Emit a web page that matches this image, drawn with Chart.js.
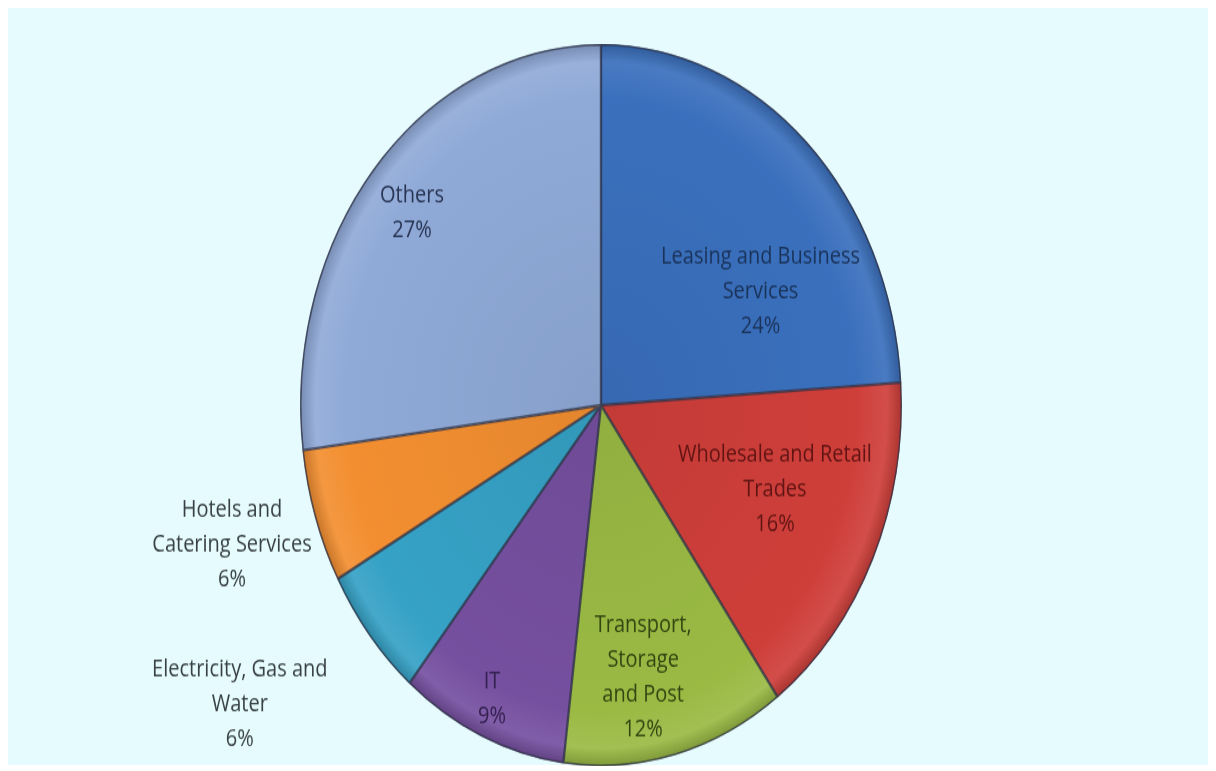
<!DOCTYPE html>
<html>
<head>
<meta charset="utf-8">
<script src="https://cdn.jsdelivr.net/npm/chart.js@4.4.0/dist/chart.umd.min.js"></script>
<style>
  html, body { margin: 0; padding: 0; background: #ffffff; }
  body { width: 1216px; height: 771px; position: relative; overflow: hidden; }
  #frame { position: absolute; left: 8px; top: 8px; width: 1200px; height: 757px; background: #e5fbfd; }
  #wrap { position: absolute; left: -7px; top: 44px; width: 1216px; height: 602px;
          transform: scaleY(1.2); transform-origin: top left; }
</style>
</head>
<body>
<div id="frame"></div>
<div id="wrap"><canvas id="chartcanvas"></canvas></div>
<script>
// data
var sectors = ["Leasing and Business Services", "Wholesale and Retail Trades", "Transport, Storage and Post",
    "IT", "Electricity, Gas and Water", "Hotels and Catering Services", "Others"];
var shares = [24, 16, 12, 9, 6, 6, 27];

// label text lines (as wrapped in the picture)
var labelLines = [
    ["Leasing and Business", "Services"],
    ["Wholesale and Retail", "Trades"],
    ["Transport,", "Storage", "and Post"],
    ["IT"],
    ["Electricity, Gas and", "Water"],
    ["Hotels and", "Catering Services"],
    ["Others"]
];

// styles
var sliceColors = ["#3a70bd", "#cf3f3a", "#9aba44", "#7650a0", "#36a2c6", "#f38f31", "#90aad8"];
var labelColors = ["#1a335a", "#611414", "#334612", "#33204f", "#384044", "#384044", "#273452"];
// label anchor, as a fraction of the pie radius from its centre
var labelPos = [[0.53, -0.315], [0.578, 0.233], [0.14, 0.753], [-0.362, 0.814],
    [-1.2, 0.828], [-1.226, 0.385], [-0.628, -0.532]];

function shade(hex, f) {
    var n = parseInt(hex.slice(1), 16);
    var r = (n >> 16) & 255, g = (n >> 8) & 255, b = n & 255;
    var m = function (c) { return Math.max(0, Math.min(255, Math.round(f < 0 ? c * (1 + f) : c + (255 - c) * f))); };
    return "rgb(" + m(r) + "," + m(g) + "," + m(b) + ")";
}

function sliceFill(context) {
    var chart = context.chart;
    var area = chart.chartArea;
    if (!area) return sliceColors[context.dataIndex];
    var base = sliceColors[context.dataIndex];
    var cx = (area.left + area.right) / 2, cy = (area.top + area.bottom) / 2;
    var r = Math.min(area.right - area.left, area.bottom - area.top) / 2;
    var g = chart.ctx.createRadialGradient(cx, cy, 0, cx, cy, r);
    g.addColorStop(0, shade(base, -0.06));
    g.addColorStop(0.85, base);
    g.addColorStop(0.95, shade(base, 0.08));
    g.addColorStop(1, shade(base, -0.18));
    return g;
}

var labelPlugin = {
    id: "sliceLabels",
    afterDatasetsDraw: function (chart) {
        var ctx = chart.ctx;
        var meta = chart.getDatasetMeta(0);
        ctx.save();
        ctx.font = "500 20px 'Open Sans', sans-serif";
        ctx.textAlign = "center";
        ctx.textBaseline = "middle";
        meta.data.forEach(function (arc, i) {
            var lines = labelLines[i].concat([shares[i] + "%"]);
            var x = arc.x + labelPos[i][0] * arc.outerRadius;
            var y = arc.y + labelPos[i][1] * arc.outerRadius;
            var lh = 29;
            var y0 = y - (lines.length - 1) * lh / 2;
            ctx.fillStyle = labelColors[i];
            lines.forEach(function (t, k) {
                ctx.fillText(t, x, y0 + k * lh);
            });
        });
        ctx.restore();
    }
};

var ctx = document.getElementById("chartcanvas");
var chart = new Chart(ctx, {
    type: "pie",
    data: {
        labels: sectors,
        datasets: [{
            data: shares,
            backgroundColor: sliceFill,
            borderColor: "rgba(45,50,70,0.75)",
            borderWidth: 1.2,
            borderAlign: "inner"
        }]
    },
    options: {
        responsive: true,
        maintainAspectRatio: false,
        animation: false,
        layout: { padding: 0 },
        plugins: {
            legend: { display: false },
            tooltip: { enabled: false },
            title: { display: false }
        }
    },
    plugins: [labelPlugin]
});
</script>
</body>
</html>
